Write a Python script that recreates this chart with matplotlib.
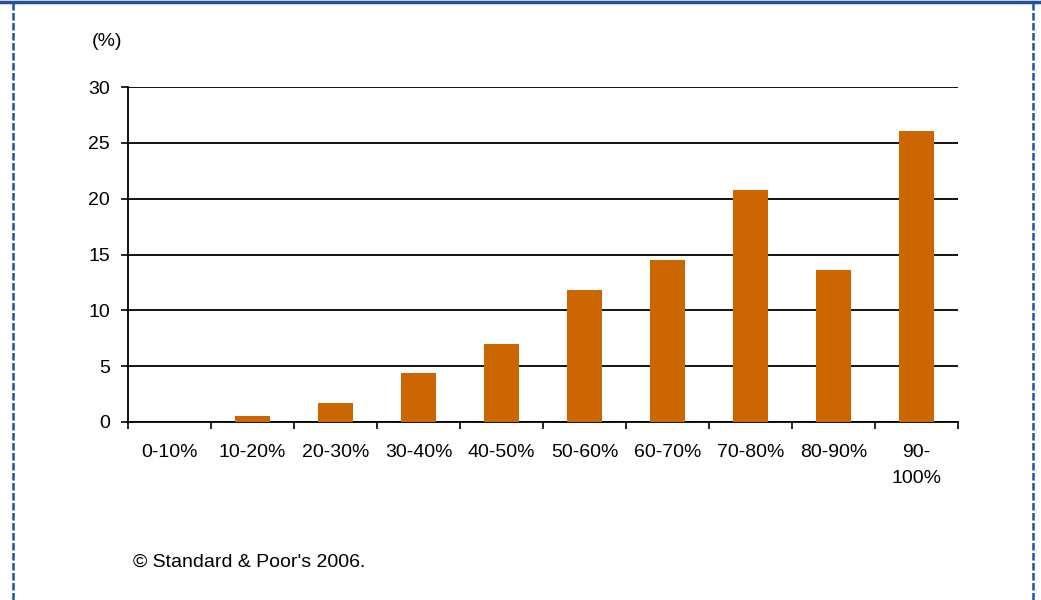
import numpy as np
import matplotlib.pyplot as plt
from matplotlib.lines import Line2D

plt.rcParams['font.family'] = ['Liberation Sans', 'DejaVu Sans']

#data
categories = ['0-10%', '10-20%', '20-30%', '30-40%', '40-50%', '50-60%',
              '60-70%', '70-80%', '80-90%', '90-\n100%']
values = [0.0, 0.5, 1.7, 4.4, 7.0, 11.8, 14.5, 20.8, 13.6, 26.1]
yticks = [0, 5, 10, 15, 20, 25, 30]

W, H = 1041, 600
fs = 14
fig = plt.figure(figsize=(W / 100, H / 100), dpi=100)
fig.patch.set_facecolor('white')

#axes: x 128..958, y 87..422 in pixels
ax = fig.add_axes([128 / W, 1 - 422 / H, (958 - 128) / W, (422 - 87) / H])

x = np.arange(len(categories))
ax.bar(x, values, width=0.42, color='#CC6600', zorder=3)

ax.set_xlim(-0.5, len(categories) - 0.5)
ax.set_ylim(0, 30)
ax.set_yticks(yticks)
ax.set_yticklabels([str(t) for t in yticks], fontsize=fs)
ax.yaxis.grid(True, color='black', linewidth=1.3, zorder=1)
ax.set_axisbelow(True)

#category ticks at the boundaries, labels centred
ax.set_xticks(np.arange(len(categories) + 1) - 0.5)
ax.set_xticklabels([])
ax.set_xticks(x, minor=True)
ax.set_xticklabels(categories, minor=True, fontsize=fs, linespacing=1.7,
                   va='top')
ax.tick_params(axis='x', which='minor', length=0, pad=16)
ax.tick_params(axis='x', which='major', length=5, width=1.2, direction='out')
ax.tick_params(axis='y', length=5, width=1.2, direction='out', pad=8)

for s in ['top', 'right']:
    ax.spines[s].set_visible(False)
ax.spines['left'].set_linewidth(1.3)
ax.spines['bottom'].set_linewidth(1.3)

fig.text(92 / W, 1 - 41 / H, '(%)', fontsize=fs, va='center', ha='left')
fig.text(133 / W, 1 - 562 / H, '\u00a9 Standard & Poor\'s 2006.', fontsize=fs,
         va='center', ha='left')

#blue frame around the figure
blue = '#2250A8'
fig.add_artist(Line2D([0, 1], [1 - 1.5 / H, 1 - 1.5 / H], color=blue,
                      linewidth=2.5, transform=fig.transFigure))
fig.add_artist(Line2D([12.5 / W, 12.5 / W], [0, 1], color=blue, linewidth=1.8,
                      linestyle=(0, (3, 1)), transform=fig.transFigure))
fig.add_artist(Line2D([1032.5 / W, 1032.5 / W], [0, 1], color=blue,
                      linewidth=1.8, linestyle=(0, (3, 1)),
                      transform=fig.transFigure))

fig.savefig('out.png', dpi=100)
